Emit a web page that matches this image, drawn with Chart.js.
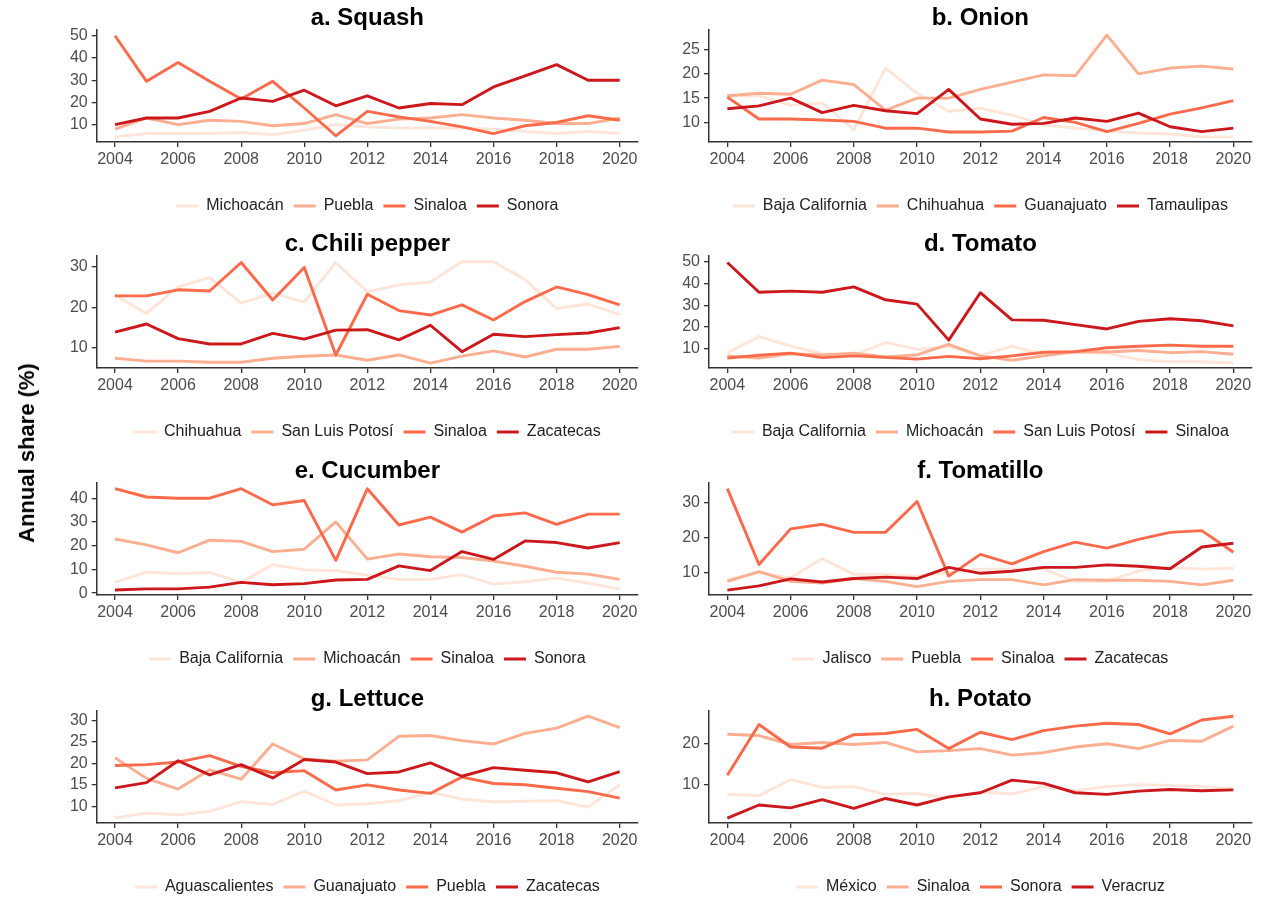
<!DOCTYPE html>
<html><head><meta charset="utf-8">
<script src="https://cdn.jsdelivr.net/npm/chart.js@4.4.1/dist/chart.umd.min.js"></script>
<style>
html,body{margin:0;padding:0;background:#fff;}
body{width:1265px;height:903px;position:relative;overflow:hidden;font-family:"Liberation Sans",Arial,sans-serif;}
canvas.pc{position:absolute;}
#ytitle{position:absolute;left:27px;top:453px;transform:translate(-50%,-50%) rotate(-90deg);font-weight:bold;font-size:22px;color:#000;white-space:nowrap;z-index:5;}
</style></head><body>
<div id="ytitle">Annual share (%)</div>
<canvas id="c0" class="pc"></canvas><canvas id="c1" class="pc"></canvas>
<canvas id="c2" class="pc"></canvas><canvas id="c3" class="pc"></canvas>
<canvas id="c4" class="pc"></canvas><canvas id="c5" class="pc"></canvas>
<canvas id="c6" class="pc"></canvas><canvas id="c7" class="pc"></canvas>
<script>
const years = [2004,2005,2006,2007,2008,2009,2010,2011,2012,2013,2014,2015,2016,2017,2018,2019,2020];
const xTicks = [2004,2006,2008,2010,2012,2014,2016,2018,2020];
const colors = ['#FEE5D9','#FCAE91','#FB6A4A','#CB181D'];

// a. Squash
const squashStates = ['Michoacán','Puebla','Sinaloa','Sonora'];
const squashMichoacan = [4.5,6,6,6,6.5,5.5,7.5,10,9,8.5,8.5,8.5,8,7,6,7,6];
const squashPuebla = [8,13,10,12,11.5,9.5,10.5,14.5,10.5,12.5,13,14.5,13,12,10.5,10.5,13];
const squashSinaloa = [50,29.5,38,29.5,21.5,29.5,17.5,5,16,13.5,11.5,9,6,9.5,11,14,12];
const squashSonora = [10,13,13,16,22,20.5,25.5,18.5,23,17.5,19.5,19,27,32,37,30,30];
const squashYTicks = [10,20,30,40,50];

// b. Onion
const onionStates = ['Baja California','Chihuahua','Guanajuato','Tamaulipas'];
const onionBaja = [15.5,15.5,13.5,14,8.5,21.2,16,12.3,12.9,11.5,9.5,8.8,8.2,7.8,7.6,7,7];
const onionChihuahua = [15.5,16,15.8,18.7,17.8,12.5,15,15,16.8,18.3,19.8,19.6,28,20,21.2,21.6,21];
const onionGuanajuato = [15.2,10.7,10.7,10.5,10.2,8.8,8.8,8,8,8.2,11,10,8.1,9.8,11.7,13,14.5];
const onionTamaulipas = [12.8,13.4,15,12,13.5,12.4,11.8,16.8,10.7,9.6,9.8,10.9,10.2,11.9,9.1,8.1,8.8];
const onionYTicks = [10,15,20,25];

// c. Chili pepper
const chiliStates = ['Chihuahua','San Luis Potosí','Sinaloa','Zacatecas'];
const chiliChihuahua = [23,18.5,25,27.3,21,23.5,21.3,31,23.8,25.5,26.2,31.2,31.2,26.8,19.7,20.8,18.2];
const chiliSLP = [7.5,6.8,6.8,6.5,6.5,7.5,8,8.3,7,8.3,6.3,8,9.3,7.8,9.7,9.7,10.4];
const chiliSinaloa = [22.8,22.8,24.3,24,31,21.8,29.8,8.3,23.2,19.2,18.1,20.6,16.9,21.4,25,23.1,20.6];
const chiliZacatecas = [13.9,15.9,12.3,11,11,13.6,12.2,14.4,14.5,12,15.6,9.1,13.4,12.8,13.3,13.7,15];
const chiliYTicks = [10,20,30];

// d. Tomato
const tomatoStates = ['Baja California','Michoacán','San Luis Potosí','Sinaloa'];
const tomatoBaja = [8,15.5,11,7.5,6.8,12.8,9.5,11,6.5,11,7,8,7.8,4.8,3.8,3.8,3.2];
const tomatoMichoacan = [6.5,5.5,7.5,7,7.8,6,7,11.8,6.5,4.5,6.5,8.5,8.3,9,8,8.5,7.3];
const tomatoSLP = [5.5,6.8,7.8,5.7,6.5,5.8,5,6.3,5.2,6.5,8.2,8.5,10.3,11,11.5,11,11];
const tomatoSinaloa = [49.8,36,36.5,36,38.5,32.5,30.5,13.8,35.8,23.2,23,21,19,22.5,23.7,22.8,20.4];
const tomatoYTicks = [10,20,30,40,50];

// e. Cucumber
const cucumberStates = ['Baja California','Michoacán','Sinaloa','Sonora'];
const cucumberBaja = [4.5,8.8,8.2,8.7,4.5,12,9.8,9.5,7.5,5.8,5.8,7.8,3.8,4.8,6.3,4.2,1.8];
const cucumberMichoacan = [22.8,20.3,17,22.3,21.8,17.5,18.5,30,14.3,16.5,15.3,15,13.5,11.3,8.8,8,5.8];
const cucumberSinaloa = [44,40.5,40,40,44,37.2,39,13.8,44,28.7,32,25.7,32.5,33.8,29,33.3,33.3];
const cucumberSonora = [1.3,1.8,1.8,2.5,4.5,3.5,4,5.5,5.8,11.5,9.5,17.5,14.2,22,21.3,19,21.3];
const cucumberYTicks = [0,10,20,30,40];

// f. Tomatillo
const tomatilloStates = ['Jalisco','Puebla','Sinaloa','Zacatecas'];
const tomatilloJalisco = [8,10,8.5,14,9.5,9.5,9,10,11,11,11,7.5,7.5,10.5,11.5,11,11.2];
const tomatilloPuebla = [7.5,10.3,7.5,7,8.3,7.5,6,7.5,8,8,6.5,8,7.8,7.8,7.5,6.5,7.8];
const tomatilloSinaloa = [34,12.3,22.5,23.8,21.5,21.5,30.3,9,15.2,12.5,16,18.7,17,19.5,21.5,22,15.8];
const tomatilloZacatecas = [5,6.2,8.2,7.3,8.3,8.7,8.3,11.5,9.8,10.4,11.5,11.5,12.2,11.8,11.1,17.3,18.4];
const tomatilloYTicks = [10,20,30];

// g. Lettuce
const lettuceStates = ['Aguascalientes','Guanajuato','Puebla','Zacatecas'];
const lettuceAguascalientes = [7.3,8.4,8,8.8,11.1,10.4,13.5,10.3,10.6,11.3,13.2,11.7,11,11.2,11.3,9.8,15];
const lettuceGuanajuato = [21.3,16.5,14,18.5,16.3,24.5,21,20.5,20.8,26.3,26.5,25.3,24.5,27,28.2,31,28.3];
const lettucePuebla = [19.5,19.7,20.3,21.8,19.3,17.8,18.3,13.8,15,13.8,13,16.8,15.3,15,14.2,13.4,11.9];
const lettuceZacatecas = [14.3,15.5,20.6,17.3,19.7,16.6,20.9,20.3,17.6,18,20.1,17,19,18.4,17.8,15.7,18.1];
const lettuceYTicks = [10,15,20,25,30];

// h. Potato
const potatoStates = ['México','Sinaloa','Sonora','Veracruz'];
const potatoMexico = [7.6,7.3,11.2,9.3,9.5,7.6,7.8,6.7,8.2,7.7,9.5,8.5,9.5,10,9.8,9.5,9];
const potatoSinaloa = [22.3,22,19.8,20.3,19.8,20.3,18,18.3,18.8,17.2,17.8,19.2,20,18.8,20.8,20.6,24.3];
const potatoSonora = [12.3,24.7,19.2,18.9,22.2,22.5,23.5,18.8,22.8,21,23.2,24.3,25,24.7,22.4,25.8,26.7];
const potatoVeracruz = [1.8,5,4.3,6.3,4.2,6.6,5,7,8,11.1,10.3,8,7.6,8.4,8.8,8.5,8.7];
const potatoYTicks = [10,20];

const panels = [
  {title:'a. Squash', states:squashStates, series:[squashMichoacan,squashPuebla,squashSinaloa,squashSonora], yTicks:squashYTicks, yMin:2.2, yMax:52.6},
  {title:'b. Onion', states:onionStates, series:[onionBaja,onionChihuahua,onionGuanajuato,onionTamaulipas], yTicks:onionYTicks, yMin:5.95, yMax:29.05},
  {title:'c. Chili pepper', states:chiliStates, series:[chiliChihuahua,chiliSLP,chiliSinaloa,chiliZacatecas], yTicks:chiliYTicks, yMin:5.1, yMax:32.6},
  {title:'d. Tomato', states:tomatoStates, series:[tomatoBaja,tomatoMichoacan,tomatoSLP,tomatoSinaloa], yTicks:tomatoYTicks, yMin:0.9, yMax:52.8},
  {title:'e. Cucumber', states:cucumberStates, series:[cucumberBaja,cucumberMichoacan,cucumberSinaloa,cucumberSonora], yTicks:cucumberYTicks, yMin:-0.8, yMax:46.4},
  {title:'f. Tomatillo', states:tomatilloStates, series:[tomatilloJalisco,tomatilloPuebla,tomatilloSinaloa,tomatilloZacatecas], yTicks:tomatilloYTicks, yMin:3.6, yMax:35.6},
  {title:'g. Lettuce', states:lettuceStates, series:[lettuceAguascalientes,lettuceGuanajuato,lettucePuebla,lettuceZacatecas], yTicks:lettuceYTicks, yMin:6.1, yMax:32.2},
  {title:'h. Potato', states:potatoStates, series:[potatoMexico,potatoSinaloa,potatoSonora,potatoVeracruz], yTicks:potatoYTicks, yMin:0.6, yMax:28.0}
];

const colLeft = [0, 650];
const colWidth = [650, 615];
const colYAxisW = [96.7, 59];
const colPadR = [12, 13.3];
const rowTop = [0, 226, 453, 681];
const canvasH = 224;
const FONT = '"Liberation Sans", Arial, sans-serif';

panels.forEach((p, i) => {
  const col = i % 2, row = Math.floor(i / 2);
  const cv = document.getElementById('c' + i);
  cv.width = colWidth[col];
  cv.height = canvasH;
  cv.style.left = colLeft[col] + 'px';
  cv.style.top = rowTop[row] + 'px';
  const datasets = p.series.map((vals, k) => ({
    label: p.states[k],
    data: years.map((y, j) => ({x: y, y: vals[j]})),
    borderColor: colors[k],
    backgroundColor: colors[k],
    borderWidth: 2.9,
    pointRadius: 0,
    pointHoverRadius: 0,
    tension: 0,
    borderJoinStyle: 'round',
    borderCapStyle: 'butt',
    order: 3 - k,
    fill: false
  }));
  new Chart(cv, {
    type: 'line',
    data: {datasets},
    options: {
      responsive: false,
      animation: false,
      devicePixelRatio: 1,
      events: [],
      layout: {padding: {left: 0, right: colPadR[col], top: 0, bottom: 0}},
      plugins: {
        tooltip: {enabled: false},
        title: {
          display: true, text: p.title, color: '#000', fullSize: false,
          font: {family: FONT, size: 24, weight: 'bold', lineHeight: 1},
          padding: {top: 6, bottom: 0}
        },
        legend: {
          display: true, position: 'bottom', fullSize: false,
          labels: {
            usePointStyle: true, pointStyle: 'line', pointStyleWidth: 22,
            color: '#222', padding: 10,
            font: {family: FONT, size: 16},
            sort: (a, b) => a.datasetIndex - b.datasetIndex
          }
        }
      },
      scales: {
        x: {
          type: 'linear', min: 2003.42, max: 2020.58,
          afterBuildTicks: s => { s.ticks = xTicks.map(v => ({value: v})); },
          afterFit: s => { s.height = 46; },
          ticks: {color: '#4d4d4d', font: {family: FONT, size: 16}, padding: 3, maxRotation: 0, autoSkip: false, callback: v => String(v)},
          grid: {display: true, drawOnChartArea: false, drawTicks: true, tickLength: 5, color: '#333', lineWidth: 1.3},
          border: {display: true, color: '#333', width: 1.5}
        },
        y: {
          type: 'linear', min: p.yMin, max: p.yMax,
          afterBuildTicks: s => { s.ticks = p.yTicks.map(v => ({value: v})); },
          afterFit: s => { s.width = colYAxisW[col]; },
          ticks: {color: '#4d4d4d', font: {family: FONT, size: 16}, padding: 4, autoSkip: false, callback: v => String(v)},
          grid: {display: true, drawOnChartArea: false, drawTicks: true, tickLength: 5, color: '#333', lineWidth: 1.3},
          border: {display: true, color: '#333', width: 1.5}
        }
      }
    }
  });
});
</script>
</body></html>
